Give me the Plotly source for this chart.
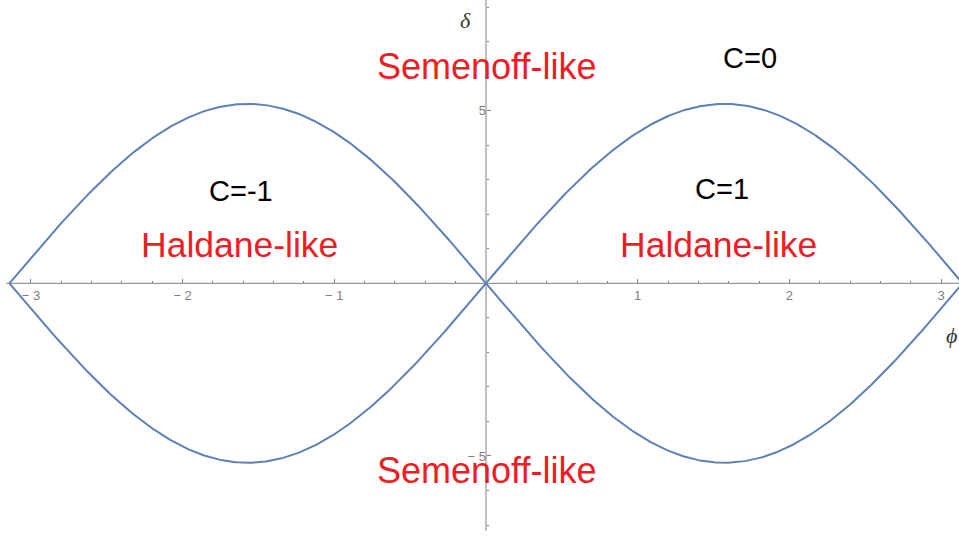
import numpy as np
import plotly.graph_objects as go

# Phase boundaries of the Haldane model: delta = +/- 3*sqrt(3) * sin(phi)
AMPLITUDE = 3 * np.sqrt(3)
phi = np.linspace(-np.pi, np.pi, 600)
upper = AMPLITUDE * np.sin(phi)
lower = -AMPLITUDE * np.sin(phi)

# Axis ranges and ticks
x_range = [-3.2037, 3.1180]
y_range = [-7.318, 8.205]
x_major = [-3, -2, -1, 1, 2, 3]
x_major_text = ["\u2212 3", "\u2212 2", "\u2212 1", "1", "2", "3"]
x_minor = [round(v, 1) for v in np.arange(-3.0, 3.01, 0.2) if abs(v - round(v)) > 1e-6]
y_major = [-5, 5]
y_major_text = ["\u2212 5", "5"]
y_minor = [-7, -6, -4, -3, -2, -1, 1, 2, 3, 4, 6, 7, 8]

# Region labels: (text, phi, delta, colour, size)
region_labels = [
    ("Semenoff-like", 0.0, 6.29, "#ee1c25", 36),
    ("Semenoff-like", 0.0, -5.42, "#ee1c25", 36),
    ("Haldane-like", -1.627, 1.10, "#ee1c25", 35.5),
    ("Haldane-like", 1.535, 1.10, "#ee1c25", 35.5),
    ("C=-1", -1.614, 2.68, "#000000", 29),
    ("C=1", 1.555, 2.72, "#000000", 29),
    ("C=0", 1.739, 6.52, "#000000", 29),
]

CURVE = "#5e81b5"
AXIS = "#808080"
TICKFONT = dict(family="Liberation Sans, Arial, sans-serif", size=13, color="#7f7f7f")

fig = go.Figure()
for ys in (upper, lower):
    fig.add_trace(go.Scatter(x=phi, y=ys, mode="lines",
                             line=dict(color=CURVE, width=2),
                             hoverinfo="skip", showlegend=False))

x_pos = (0 - y_range[0]) / (y_range[1] - y_range[0])
y_pos = (0 - x_range[0]) / (x_range[1] - x_range[0])

fig.update_xaxes(range=x_range, showgrid=False, zeroline=False, showline=False,
                 anchor="free", position=x_pos,
                 ticks="inside", ticklen=4, tickwidth=1, tickcolor=AXIS,
                 tickvals=x_major, ticktext=x_major_text, tickfont=TICKFONT,
                 ticklabelstandoff=3,
                 minor=dict(tickvals=x_minor, ticks="inside", ticklen=2,
                            tickwidth=1, tickcolor=AXIS, showgrid=False))
fig.update_yaxes(range=y_range, showgrid=False, zeroline=False, showline=False,
                 anchor="free", position=y_pos,
                 ticks="inside", ticklen=4, tickwidth=1, tickcolor=AXIS,
                 tickvals=y_major, ticktext=y_major_text, tickfont=TICKFONT,
                 minor=dict(tickvals=y_minor, ticks="inside", ticklen=2,
                            tickwidth=1, tickcolor=AXIS, showgrid=False))

# Axis lines through the origin
fig.add_shape(type="line", xref="x", yref="y", x0=-3.162, x1=x_range[1], y0=0, y1=0,
              line=dict(color=AXIS, width=1), layer="below")
fig.add_shape(type="line", xref="x", yref="y", x0=0, x1=0, y0=-7.165, y1=y_range[1],
              line=dict(color=AXIS, width=1), layer="below")

for text, x, y, color, size in region_labels:
    fig.add_annotation(x=x, y=y, xref="x", yref="y", text=text, showarrow=False,
                       xanchor="center", yanchor="middle",
                       font=dict(family="Liberation Sans, Arial, sans-serif",
                                 size=size, color=color))

# Axis names
fig.add_annotation(x=-0.132, y=7.62, xref="x", yref="y", text="<i>\u03b4</i>",
                   showarrow=False, font=dict(family="Liberation Serif, Times New Roman, serif",
                                              size=22, color="#333333"))
fig.add_annotation(x=3.066, y=-1.50, xref="x", yref="y", text="<i>\u03d5</i>",
                   showarrow=False, font=dict(family="Liberation Serif, Times New Roman, serif",
                                              size=22, color="#333333"))

fig.update_layout(width=959, height=536, margin=dict(l=0, r=0, t=0, b=0),
                  paper_bgcolor="white", plot_bgcolor="white", showlegend=False)

fig.write_html("out.html")
